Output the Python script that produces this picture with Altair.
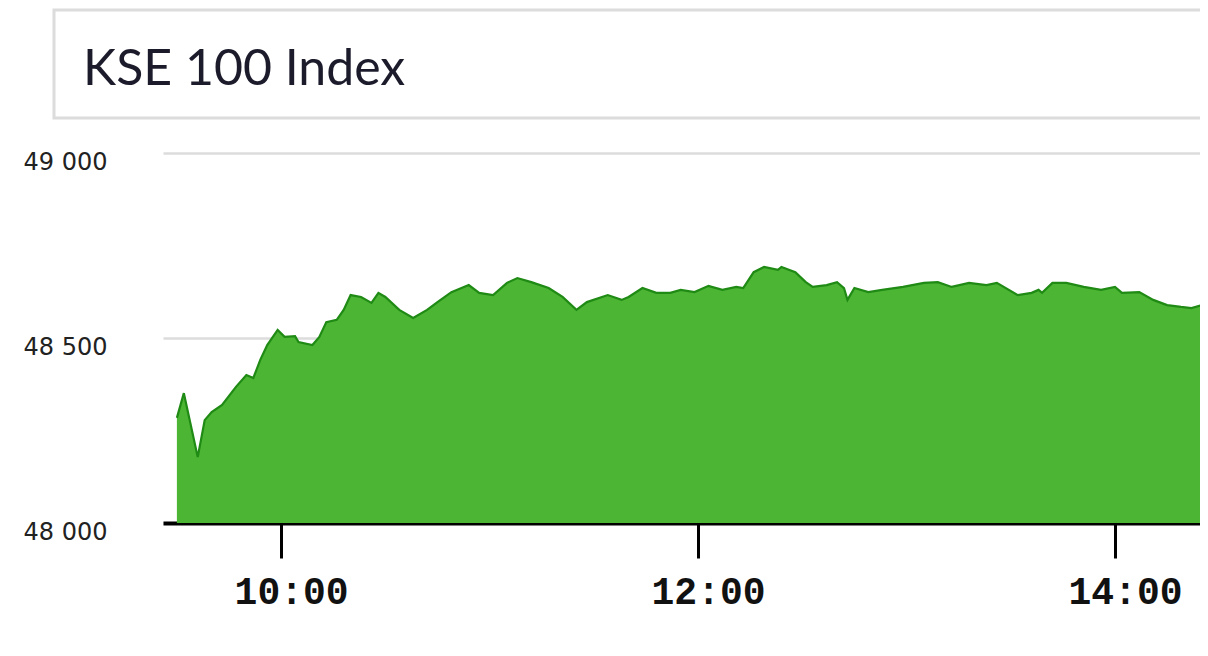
import altair as alt
import pandas as pd

TITLE = "KSE 100 Index"

TIMES = [
    "09:30", "09:32", "09:36", "09:38", "09:40", "09:43", "09:47", "09:50", "09:52", "09:54",
    "09:56", "09:59", "10:01", "10:04", "10:05", "10:09", "10:11", "10:13", "10:16", "10:18",
    "10:20", "10:23", "10:26", "10:28", "10:30", "10:34", "10:38", "10:42", "10:45", "10:49",
    "10:54", "10:57", "11:01", "11:05", "11:08", "11:12", "11:17", "11:21", "11:25", "11:28",
    "11:34", "11:38", "11:40", "11:44", "11:48", "11:52", "11:55", "11:59", "12:03", "12:07",
    "12:11", "12:13", "12:16", "12:19", "12:23", "12:24", "12:28", "12:31", "12:33", "12:37",
    "12:40", "12:42", "12:43", "12:45", "12:49", "12:53", "12:59", "13:05", "13:09", "13:13",
    "13:18", "13:23", "13:26", "13:32", "13:36", "13:38", "13:39", "13:42", "13:46", "13:51",
    "13:56", "14:00", "14:02", "14:07", "14:11", "14:15", "14:19", "14:22", "14:25", "14:27",
]
VALUES = [
    48284, 48351, 48178, 48278, 48300, 48319, 48368, 48400, 48392, 48441,
    48481, 48522, 48503, 48505, 48489, 48481, 48503, 48543, 48549, 48576,
    48616, 48611, 48595, 48622, 48611, 48576, 48554, 48576, 48597, 48624,
    48643, 48622, 48616, 48649, 48662, 48651, 48635, 48611, 48576, 48597,
    48616, 48603, 48611, 48635, 48622, 48622, 48630, 48624, 48641, 48630,
    48638, 48635, 48678, 48692, 48684, 48692, 48678, 48651, 48638, 48643,
    48651, 48635, 48603, 48635, 48624, 48630, 48638, 48649, 48651, 48638,
    48649, 48643, 48649, 48616, 48622, 48630, 48622, 48649, 48649, 48638,
    48630, 48638, 48622, 48624, 48603, 48589, 48584, 48581, 48589, 48589,
]
TICK_LABELS = ["10:00", "12:00", "14:00"]
Y_TICKS = [48000, 48500, 49000]
X_START = "09:26:00"
X_END = "14:24:28"


def dt(s):
    parts = [int(p) for p in s.split(":")]
    while len(parts) < 3:
        parts.append(0)
    return alt.DateTime(year=2020, month=1, date=1, hours=parts[0],
                        minutes=parts[1], seconds=parts[2], utc=True)


df = pd.DataFrame({
    "t": ["2020-01-01T" + s + ":00Z" for s in TIMES],
    "v": VALUES,
})

W, H = 1037, 370

area = alt.Chart(df).mark_area(
    color="#4cb534",
    opacity=1,
    clip=True,
    line={"color": "#1f8a14", "strokeWidth": 2.2},
).encode(
    x=alt.X(
        "t:T",
        scale=alt.Scale(type="utc", domain=[dt(X_START), dt(X_END)]),
        axis=alt.Axis(
            values=[dt(l) for l in TICK_LABELS],
            format="%H:%M",
            title=None,
            grid=False,
            domainColor="#000000",
            domainWidth=4,
            tickColor="#000000",
            tickWidth=3,
            tickSize=35,
            labelFont="Liberation Mono",
            labelFontWeight="bold",
            labelFontSize=38,
            labelColor="#111111",
            labelBaseline="middle",
            labelPadding=34,
            labelOffset=10,
            labelFlush=False,
            labelOverlap=False,
        ),
    ),
    y=alt.Y(
        "v:Q",
        scale=alt.Scale(domain=[Y_TICKS[0], Y_TICKS[-1]], nice=False, zero=False),
        axis=alt.Axis(
            values=Y_TICKS,
            labelExpr="replace(format(datum.value, ','), ',', ' ')",
            title=None,
            domain=False,
            ticks=False,
            gridColor="#dcdcdc",
            gridWidth=2.5,
            labelFont="DejaVu Sans",
            labelFontSize=24,
            labelColor="#222222",
            labelPadding=56,
            labelOffset=9,
            labelBaseline="middle",
        ),
    ),
)

title_df = pd.DataFrame({"label": [TITLE]})

title_box = alt.Chart(title_df).mark_rect(
    fill="white", stroke="#dcdcdc", strokeWidth=3
).encode(
    x=alt.value(-109), x2=alt.value(W + 20),
    y=alt.value(-143), y2=alt.value(-35),
)

title_text = alt.Chart(title_df).mark_text(
    align="left", baseline="alphabetic", font="Lato", fontSize=50, color="#1b1b2b"
).encode(
    x=alt.value(-80), y=alt.value(-68), text="label:N",
)

chart = alt.layer(title_box, title_text, area).properties(
    width=W,
    height=H,
    background="white",
    padding={"left": 155, "top": 145, "right": 0, "bottom": 100},
    autosize=alt.AutoSizeParams(type="none"),
).configure_view(strokeWidth=0, stroke="transparent")

chart.save("out.html", embed_options={"renderer": "svg", "actions": False})
